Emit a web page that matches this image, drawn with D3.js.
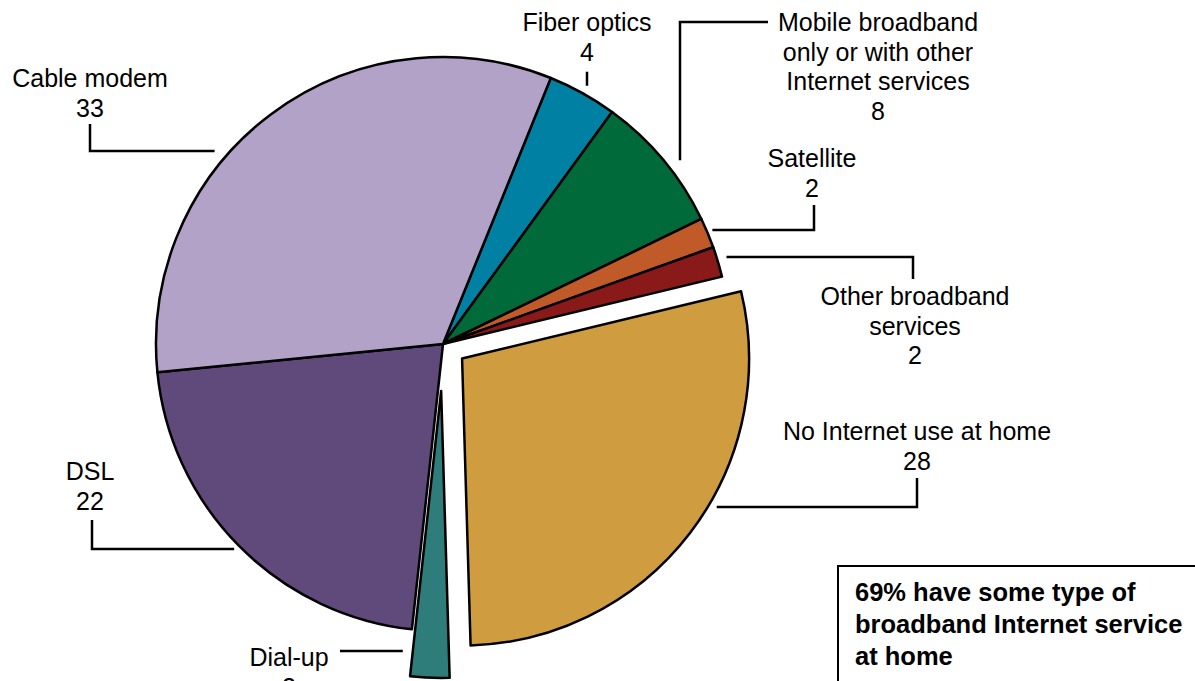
<!DOCTYPE html>
<html><head><meta charset="utf-8">
<script src="https://cdn.jsdelivr.net/npm/d3@7"></script>
<style>html,body{margin:0;padding:0;background:#fff;overflow:hidden}</style>
</head><body><svg id="c" width="1195" height="681"></svg>
<script>
// ---- data ----
const categories = ["Fiber optics","Mobile broadband only or with other Internet services","Satellite","Other broadband services","No Internet use at home","Dial-up","DSL","Cable modem"];
const labelLines = [["Fiber optics"],["Mobile broadband","only or with other","Internet services"],["Satellite"],["Other broadband","services"],["No Internet use at home"],["Dial-up"],["DSL"],["Cable modem"]];
const values = [3.9, 7.8, 1.7, 1.7, 28.3, 2.2, 21.7, 32.7];
const valueLabels = ["4","8","2","2","28","2","22","33"];
const noteLines = ["69% have some type of","broadband Internet service","at home"];

// ---- style / layout ----
const colors = ["#0080A2","#006A3A","#C05A28","#8A1A1A","#D09C40","#2E7D7A","#604A7B","#B3A2C7"];
const explode = [0,0,0,0,24,47,0,0];
const cx = 443, cy = 344, R = 287;
const startDeg = 22.06;
const font = "'Liberation Sans', Arial, Helvetica, sans-serif";
const fs = 25, lh = 29.5;

const labelLayout = [
  {x:587, y:31, leader:{type:"tick", x:587, gap:10, len:14}},
  {x:878, y:31, leader:{type:"v", at:680, gap:22, elbow:22, end:768}},
  {x:812, y:167, leader:{type:"h", at:230, gap:6, elbow:814, end:205}},
  {x:915, y:305, leader:{type:"h", at:257, gap:10, elbow:913, end:279}},
  {x:917, y:440, leader:{type:"h", at:507, gap:9, elbow:917, end:478}},
  {x:289, y:666, leader:{type:"hr", at:651, gap:10, elbow:340}},
  {x:90, y:480, leader:{type:"h", at:549, gap:8, elbow:92, end:520}},
  {x:90, y:87, leader:{type:"h", at:151, gap:16, elbow:90, end:124}}
];

const svg = d3.select("#c");
const pie = d3.pie().sort(null).value(d => d)
  .startAngle(startDeg*Math.PI/180).endAngle(startDeg*Math.PI/180 + 2*Math.PI);
const arcs = pie(values);
const arc = d3.arc().innerRadius(0).outerRadius(R);

function centerOf(i){
  const a = arcs[i], m = (a.startAngle + a.endAngle)/2, e = explode[i];
  return [cx + Math.sin(m)*e, cy - Math.cos(m)*e];
}

const g = svg.append("g");
g.selectAll("path").data(arcs).join("path")
  .attr("transform", (d,i) => { const c = centerOf(i); return `translate(${c[0]},${c[1]})`; })
  .attr("d", arc)
  .attr("fill", (d,i) => colors[i])
  .attr("stroke", "#000").attr("stroke-width", 2.5).attr("stroke-linejoin","round");

// leaders
function edgeX(i, y, side){
  const c = centerOf(i); const dy = y - c[1];
  return c[0] + side*Math.sqrt(R*R - dy*dy);
}
function edgeY(i, x){
  const c = centerOf(i); const dx = x - c[0];
  return c[1] - Math.sqrt(R*R - dx*dx);
}
const leaderG = svg.append("g").attr("fill","none").attr("stroke","#000").attr("stroke-width",2.5);
labelLayout.forEach((L,i) => {
  const s = L.leader; let pts;
  const c = centerOf(i);
  if (s.type === "h") {
    const side = s.elbow > c[0] ? 1 : -1;
    const x0 = edgeX(i, s.at, side) + side*s.gap;
    pts = [[x0, s.at],[s.elbow, s.at],[s.elbow, s.end]];
  } else if (s.type === "v") {
    const y0 = edgeY(i, s.at) - s.gap;
    pts = [[s.at, y0],[s.at, s.elbow],[s.end, s.elbow]];
  } else if (s.type === "tick") {
    const y1 = edgeY(i, s.x) - s.gap;
    pts = [[s.x, y1 - s.len],[s.x, y1]];
  } else if (s.type === "hr") {
    const A = arcs[i].endAngle; // left radial edge
    const t = (c[1] - s.at) / Math.cos(A);
    const x0 = c[0] + t*Math.sin(A) - s.gap;
    pts = [[x0, s.at],[s.elbow, s.at]];
  }
  leaderG.append("path").attr("d", d3.line()(pts));
});

// labels
const labG = svg.append("g").attr("font-family", font).attr("font-size", fs).attr("fill","#000").attr("text-anchor","middle");
labelLayout.forEach((L,i) => {
  const lines = labelLines[i].concat([valueLabels[i]]);
  const t = labG.append("text").attr("x", L.x).attr("y", L.y);
  lines.forEach((ln,k) => t.append("tspan").attr("x", L.x).attr("y", L.y + k*lh).text(ln));
});

// note box
svg.append("rect").attr("x",838).attr("y",566).attr("width",420).attr("height",200)
  .attr("fill","#fff").attr("stroke","#000").attr("stroke-width",2);
const nt = svg.append("text").attr("font-family", font).attr("font-size", 25.5).attr("font-weight","bold").attr("fill","#000");
noteLines.forEach((ln,k) => nt.append("tspan").attr("x",855).attr("y",601 + k*32).text(ln));
</script>
</body></html>
